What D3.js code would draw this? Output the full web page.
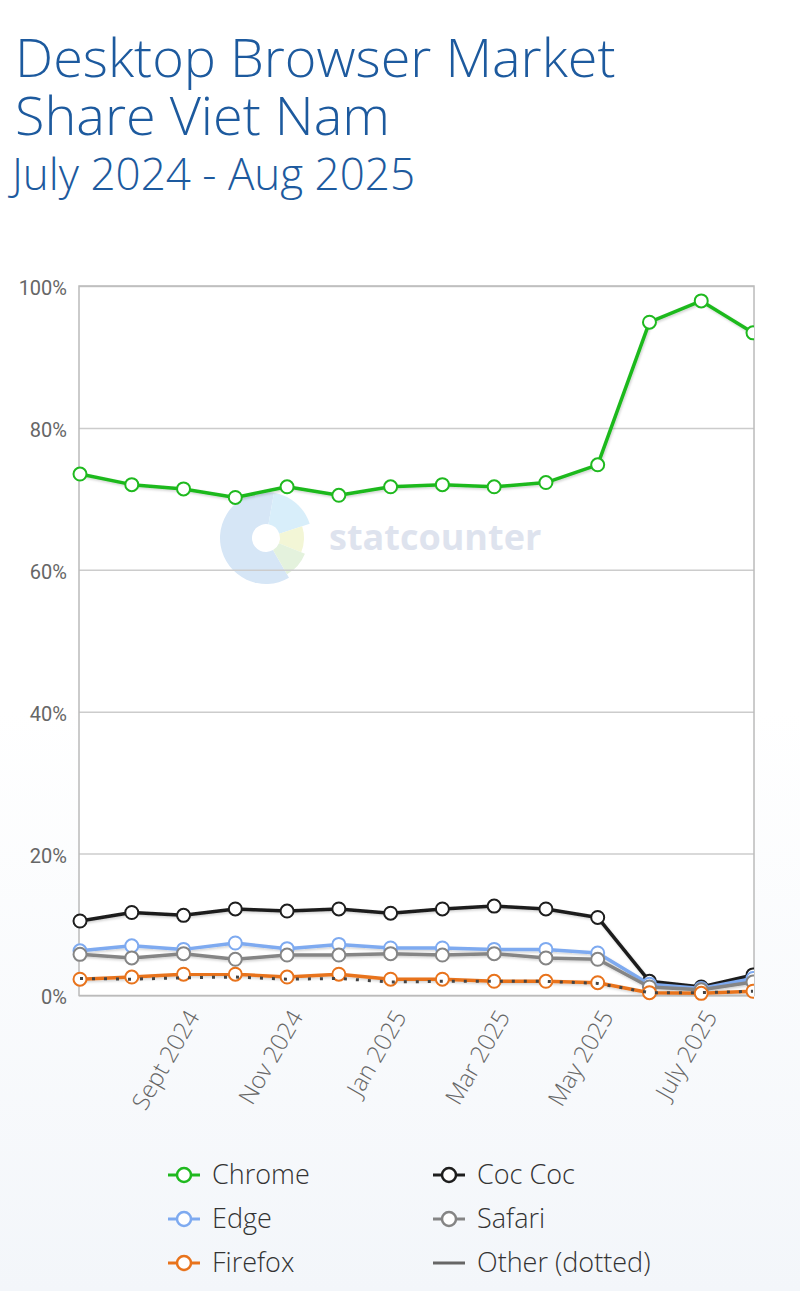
<!DOCTYPE html>
<html lang="en">
<head>
<meta charset="UTF-8">
<title>Desktop Browser Market Share Viet Nam</title>
<script src="https://d3js.org/d3.v7.min.js"></script>
<style>
    body {
        margin: 0;
        background: linear-gradient(to bottom, #ffffff 0%, #ffffff 55%, #f3f6fa 100%);
        font-family: "Open Sans", sans-serif;
    }
    #chart { width: 800px; height: 1291px; }
</style>
</head>
<body>
<div id="chart"></div>
<script>
    // months shown on the x axis (one point per month)
    const months = ["Jul 2024", "Aug 2024", "Sep 2024", "Oct 2024", "Nov 2024", "Dec 2024",
        "Jan 2025", "Feb 2025", "Mar 2025", "Apr 2025", "May 2025", "Jun 2025", "Jul 2025", "Aug 2025"];
    const tickMonths = ["Sep 2024", "Nov 2024", "Jan 2025", "Mar 2025", "May 2025", "Jul 2025"];
    const tickLabels = ["Sept 2024", "Nov 2024", "Jan 2025", "Mar 2025", "May 2025", "July 2025"];
    const yTicks = [0, 20, 40, 60, 80, 100];

    // market share in percent
    const chrome  = [73.5, 72.0, 71.4, 70.2, 71.7, 70.5, 71.7, 72.0, 71.7, 72.3, 74.8, 94.9, 97.9, 93.4];
    const cocCoc  = [10.5, 11.7, 11.3, 12.2, 11.9, 12.2, 11.6, 12.2, 12.6, 12.2, 11.0, 2.0, 1.2, 2.9];
    const edge    = [6.3, 7.0, 6.5, 7.4, 6.6, 7.2, 6.7, 6.7, 6.5, 6.5, 6.0, 1.6, 1.0, 2.4];
    const safari  = [5.8, 5.3, 5.9, 5.1, 5.7, 5.7, 5.9, 5.7, 5.9, 5.3, 5.1, 1.2, 0.8, 1.9];
    const firefox = [2.3, 2.6, 3.0, 3.0, 2.6, 3.0, 2.3, 2.3, 2.0, 2.0, 1.8, 0.4, 0.3, 0.6];
    const other   = [2.4, 2.3, 2.5, 2.6, 2.3, 2.4, 1.9, 2.0, 2.0, 2.0, 1.7, 0.4, 0.4, 0.6];

    const series = [
        { name: "Chrome", values: chrome, color: "#1fb91f", marker: true },
        { name: "Coc Coc", values: cocCoc, color: "#1e1e1e", marker: true },
        { name: "Edge", values: edge, color: "#7eaaf0", marker: true },
        { name: "Safari", values: safari, color: "#858585", marker: true },
        { name: "Firefox", values: firefox, color: "#e8731c", marker: true },
        { name: "Other (dotted)", values: other, color: "#444", marker: false, dotted: true }
    ];

    const width = 800, height = 1291;
    const plot = { left: 79, right: 754, top: 286, bottom: 995.5 };

    const svg = d3.select("#chart").append("svg")
        .attr("width", width)
        .attr("height", height);

    const defs = svg.append("defs");
    defs.append("clipPath").attr("id", "plot-clip")
        .append("rect")
        .attr("x", 0).attr("y", 0)
        .attr("width", plot.right).attr("height", plot.bottom + 20);
    defs.append("filter").attr("id", "shadow")
        .attr("x", "-5%").attr("y", "-5%").attr("width", "110%").attr("height", "110%")
        .append("feDropShadow")
        .attr("dx", 1).attr("dy", 1.5).attr("stdDeviation", 1.2)
        .attr("flood-color", "#000").attr("flood-opacity", 0.18);

    // titles (one text block, three lines)
    const title = svg.append("text")
        .attr("x", 15).attr("y", 77)
        .style("fill", "#1d5a9e").style("font-weight", 300);
    title.append("tspan").attr("x", 15).style("font-size", "54px").text("Desktop Browser Market");
    title.append("tspan").attr("x", 15).attr("dy", 58).style("font-size", "54px").text("Share Viet Nam");
    title.append("tspan").attr("x", 12).attr("dy", 55).style("font-size", "44px").text("July 2024 - Aug 2025");

    const x = d3.scalePoint().domain(months).range([80, 753]);
    const y = d3.scaleLinear().domain([0, 100]).range([plot.bottom, plot.top]);

    // plot background
    svg.append("rect")
        .attr("x", plot.left).attr("y", plot.top)
        .attr("width", plot.right - plot.left).attr("height", plot.bottom - plot.top)
        .style("fill", "#fff");

    // statcounter watermark
    const wm = svg.append("g").attr("transform", "translate(266,538)");
    const arc = d3.arc().innerRadius(14);
    const pieces = [
        { s: 150, e: 370, r: 46, c: "#d6e6f6" },
        { s: 10, e: 72, r: 46, c: "#d8eefa" },
        { s: 72, e: 112, r: 38, c: "#f3f6d6" },
        { s: 112, e: 150, r: 42, c: "#e4f2dd" }
    ];
    wm.selectAll("path").data(pieces).enter().append("path")
        .attr("d", d => arc({ outerRadius: d.r, startAngle: d.s * Math.PI / 180, endAngle: d.e * Math.PI / 180 }))
        .style("fill", d => d.c);
    svg.append("text").attr("x", 329).attr("y", 550)
        .style("font-size", "36px").style("font-weight", 700)
        .style("fill", "#dee3ee").text("statcounter");

    // grid + y labels
    const yAxis = svg.append("g")
        .attr("transform", `translate(${plot.left},0)`)
        .call(d3.axisLeft(y).tickValues(yTicks).tickSize(-(plot.right - plot.left)).tickFormat(d => d + "%"));
    yAxis.select(".domain").remove();
    yAxis.selectAll(".tick line").style("stroke", "#cccccc").style("stroke-width", 1.5);
    yAxis.selectAll(".tick text")
        .attr("x", -12).attr("dy", "0.42em")
        .style("font-family", "Roboto, sans-serif")
        .style("font-size", "20px").style("fill", "#666");

    // plot border
    svg.append("rect")
        .attr("x", plot.left).attr("y", plot.top)
        .attr("width", plot.right - plot.left).attr("height", plot.bottom - plot.top)
        .style("fill", "none").style("stroke", "#bbbbbb").style("stroke-width", 1.5);

    // x labels
    const xAxis = svg.append("g")
        .attr("transform", `translate(0,${plot.bottom})`)
        .call(d3.axisBottom(x).tickValues(tickMonths).tickSize(0)
            .tickFormat(d => tickLabels[tickMonths.indexOf(d)]));
    xAxis.select(".domain").remove();
    xAxis.selectAll(".tick text")
        .attr("transform", "translate(9,17) rotate(-60)")
        .attr("x", 0).attr("y", 0).attr("dy", "0.35em")
        .style("text-anchor", "end")
        .style("font-family", "Open Sans, sans-serif")
        .style("font-weight", 300)
        .style("font-size", "24px").style("fill", "#666");

    // lines
    const line = d3.line().x((d, i) => x(months[i])).y(d => y(d));
    const lines = svg.append("g").attr("clip-path", "url(#plot-clip)");

    series.forEach(s => {
        const g = lines.append("g");
        g.append("path")
            .datum(s.values)
            .attr("d", line)
            .style("fill", "none")
            .style("stroke", s.color)
            .style("stroke-width", s.dotted ? 3 : 3.5)
            .style("stroke-linejoin", "round")
            .style("stroke-dasharray", s.dotted ? "3,9" : null)
            .style("filter", s.dotted ? null : "url(#shadow)");
        if (s.marker) {
            g.selectAll("circle")
                .data(s.values)
                .enter()
                .append("circle")
                .attr("cx", (d, i) => x(months[i]))
                .attr("cy", d => y(d))
                .attr("r", 6.5)
                .style("fill", "#fff")
                .style("stroke", s.color)
                .style("stroke-width", 2);
        }
    });

    // legend
    const legend = svg.append("g");
    const item = legend.selectAll("g")
        .data(series)
        .enter()
        .append("g")
        .attr("transform", (d, i) => `translate(${i % 2 === 0 ? 168 : 433},${1175 + Math.floor(i / 2) * 44})`);
    item.append("line")
        .attr("x1", 0).attr("x2", 32).attr("y1", 0).attr("y2", 0)
        .style("stroke", d => d.dotted ? "#666" : d.color)
        .style("stroke-width", 3);
    item.filter(d => d.marker).append("circle")
        .attr("cx", 16).attr("cy", 0).attr("r", 7)
        .style("fill", "#fff")
        .style("stroke", d => d.color)
        .style("stroke-width", 2.5);
    item.append("text")
        .attr("x", 44).attr("y", 9)
        .style("font-family", "Open Sans, sans-serif")
        .style("font-weight", 300)
        .style("font-size", "27px").style("fill", "#333")
        .text(d => d.name);
</script>
</body>
</html>
